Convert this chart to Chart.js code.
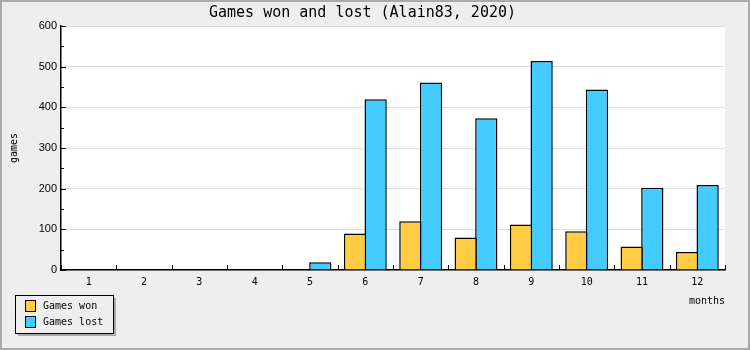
<!DOCTYPE html>
<html>
<head>
<meta charset="utf-8">
<script src="https://cdn.jsdelivr.net/npm/chart.js@4"></script>
<style>
  html, body { margin: 0; padding: 0; background: #eeeeee; }
  #wrap { width: 750px; height: 350px; position: relative; }
</style>
</head>
<body>
<div id="wrap"><canvas id="games" width="750" height="350"></canvas></div>
<script>
// months, games won and lost
const months = ['1', '2', '3', '4', '5', '6', '7', '8', '9', '10', '11', '12'];
const gamesWon = [0, 0, 0, 0, 0, 90, 120, 80, 112, 95, 58, 44];
const gamesLost = [0, 0, 0, 0, 19, 420, 461, 373, 514, 444, 202, 209];

const MONO = '"DejaVu Sans Mono", monospace';

// white plot area, gray frame around the picture
const background = {
    id: 'background',
    beforeDraw(chart) {
        const { ctx, chartArea: a } = chart;
        ctx.save();
        ctx.fillStyle = '#eeeeee';
        ctx.fillRect(0, 0, chart.width, chart.height);
        ctx.fillStyle = '#ffffff';
        ctx.fillRect(a.left, a.top, a.right - a.left, a.bottom - a.top);
        ctx.restore();
    },
    afterDraw(chart) {
        const ctx = chart.ctx;
        ctx.save();
        ctx.strokeStyle = '#aaaaaa';
        ctx.lineWidth = 2;
        ctx.strokeRect(1, 1, chart.width - 2, chart.height - 2);
        ctx.restore();
    }
};

// tick marks drawn inward, minor ticks on y
const innerTicks = {
    id: 'innerTicks',
    afterDatasetsDraw(chart) {
        const { ctx, scales: { x, y } } = chart;
        ctx.save();
        ctx.strokeStyle = '#000';
        ctx.lineWidth = 1;
        ctx.beginPath();
        for (let v = 0; v <= 600; v += 50) {
            const py = Math.round(y.getPixelForValue(v)) + 0.5;
            const len = v % 100 === 0 ? 5 : 3;
            ctx.moveTo(x.left, py);
            ctx.lineTo(x.left + len, py);
        }
        const w = (x.right - x.left) / months.length;
        for (let i = 0; i <= months.length; i++) {
            const px = Math.round(x.left + i * w) + 0.5;
            ctx.moveTo(px, y.bottom);
            ctx.lineTo(px, y.bottom - 5);
        }
        ctx.stroke();
        ctx.restore();
    }
};

// framed legend with shadow, bottom left
const boxLegend = {
    id: 'boxLegend',
    afterDraw(chart) {
        const ctx = chart.ctx;
        const bx = 15, by = 295, bw = 98, bh = 38;
        ctx.save();
        ctx.fillStyle = '#aaaaaa';
        ctx.fillRect(bx + 3, by + 3, bw, bh);
        ctx.fillStyle = '#eeeeee';
        ctx.fillRect(bx, by, bw, bh);
        ctx.strokeStyle = '#000';
        ctx.lineWidth = 1;
        ctx.strokeRect(bx + 0.5, by + 0.5, bw, bh);
        ctx.font = '10px ' + MONO;
        ctx.textBaseline = 'middle';
        chart.data.datasets.forEach((ds, i) => {
            const cy = by + 11 + i * 16;
            ctx.fillStyle = ds.backgroundColor;
            ctx.fillRect(bx + 10.5, cy - 5.5, 10, 11);
            ctx.strokeRect(bx + 10.5, cy - 5.5, 10, 11);
            ctx.fillStyle = '#000';
            ctx.fillText(ds.label, bx + 28, cy);
        });
        ctx.restore();
    }
};

new Chart(document.getElementById('games'), {
    type: 'bar',
    data: {
        labels: months,
        datasets: [
            {
                label: 'Games won',
                data: gamesWon,
                backgroundColor: '#ffcc44',
                borderColor: '#000',
                borderWidth: 1.5,
                borderSkipped: 'bottom'
            },
            {
                label: 'Games lost',
                data: gamesLost,
                backgroundColor: '#44ccff',
                borderColor: '#000',
                borderWidth: 1.5,
                borderSkipped: 'bottom'
            }
        ]
    },
    options: {
        responsive: false,
        animation: false,
        devicePixelRatio: 1,
        layout: { padding: { left: 0, right: 25, top: 0, bottom: 0 } },
        datasets: {
            bar: { categoryPercentage: 0.745, barPercentage: 1.08 }
        },
        scales: {
            x: {
                afterFit(scale) { scale.height = 80; },
                grid: { display: true, color: 'rgba(0,0,0,0)', drawTicks: false, offset: true },
                border: { display: true, color: '#000', width: 1.5 },
                ticks: { color: '#000', font: { family: MONO, size: 10 }, padding: 6, maxRotation: 0 },
                title: {
                    display: true, text: 'months', align: 'end', color: '#000',
                    font: { family: MONO, size: 10 }, padding: { top: 6, bottom: 43 }
                }
            },
            y: {
                min: 0,
                max: 600,
                afterFit(scale) { scale.width = 61; },
                grid: { color: '#dddddd', drawTicks: false },
                border: { display: true, color: '#000', width: 1.5 },
                ticks: {
                    stepSize: 100, color: '#000', padding: 4,
                    font: { family: '"Liberation Sans", sans-serif', size: 11 }
                },
                title: {
                    display: true, text: 'games', color: '#000',
                    font: { family: MONO, size: 10 }, padding: { top: 8, bottom: 0 }
                }
            }
        },
        plugins: {
            legend: { display: false },
            tooltip: { enabled: false },
            title: {
                display: true,
                text: 'Games won and lost (Alain83, 2020)',
                color: '#000',
                font: { family: MONO, size: 15, weight: 'normal', lineHeight: 1.2 },
                padding: { top: 4, bottom: 4 }
            }
        }
    },
    plugins: [background, innerTicks, boxLegend]
});
</script>
</body>
</html>
